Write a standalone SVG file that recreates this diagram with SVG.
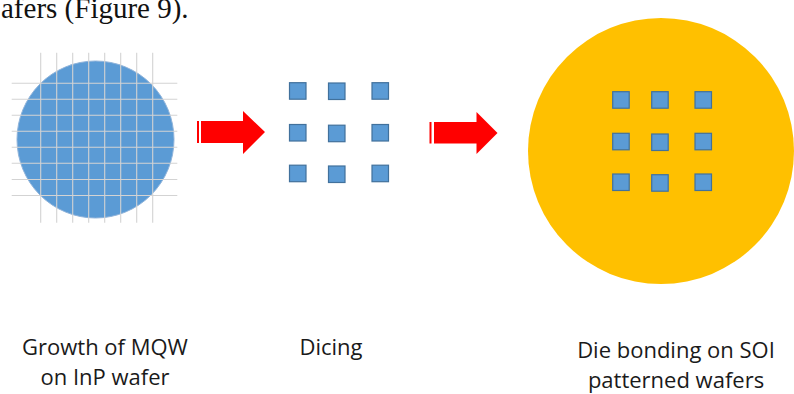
<svg xmlns="http://www.w3.org/2000/svg" width="794" height="394" viewBox="0 0 794 394">
<style>
.die{fill:#5B9BD5;stroke:#41719C;stroke-width:1.2}
.arrow{fill:#FF0000}
.grid{stroke:#D3D3D3;stroke-width:1.1}
.lbl{font-family:"Open Sans","Liberation Sans",sans-serif;font-size:22px;fill:#1a1a1a;text-anchor:middle}
.top{font-family:"Liberation Serif","Times New Roman",serif;font-size:29px;fill:#111}
</style>
<rect width="794" height="394" fill="#fff"/>
<text class="top" x="1" y="18">afers (Figure 9).</text>

<g id="inp-wafer">
<circle cx="95.5" cy="139.5" r="78.5" fill="#5B9BD5" stroke="#8FB3DA" stroke-width="1"/>
<g class="grid">
<line x1="40.7" y1="52.7" x2="40.7" y2="222.7"/>
<line x1="56.7" y1="52.7" x2="56.7" y2="222.7"/>
<line x1="72.7" y1="52.7" x2="72.7" y2="222.7"/>
<line x1="88.7" y1="52.7" x2="88.7" y2="222.7"/>
<line x1="104.7" y1="52.7" x2="104.7" y2="222.7"/>
<line x1="120.7" y1="52.7" x2="120.7" y2="222.7"/>
<line x1="136.7" y1="52.7" x2="136.7" y2="222.7"/>
<line x1="152.7" y1="52.7" x2="152.7" y2="222.7"/>
<line x1="11.7" y1="83.3" x2="177.3" y2="83.3"/>
<line x1="11.7" y1="99.3" x2="177.3" y2="99.3"/>
<line x1="11.7" y1="115.3" x2="177.3" y2="115.3"/>
<line x1="11.7" y1="131.3" x2="177.3" y2="131.3"/>
<line x1="11.7" y1="147.3" x2="177.3" y2="147.3"/>
<line x1="11.7" y1="163.3" x2="177.3" y2="163.3"/>
<line x1="11.7" y1="179.5" x2="177.3" y2="179.5"/>
<line x1="11.7" y1="195.5" x2="177.3" y2="195.5"/>
</g>
</g>

<g id="dice">
<rect class="die" x="289.5" y="82.7" width="16.5" height="16.5"/>
<rect class="die" x="328.5" y="83" width="16.5" height="16.5"/>
<rect class="die" x="372" y="82.7" width="16.5" height="16.5"/>
<rect class="die" x="289.5" y="124.5" width="16.5" height="16.5"/>
<rect class="die" x="328.5" y="125.2" width="16.5" height="16.5"/>
<rect class="die" x="372" y="124.5" width="16.5" height="16.5"/>
<rect class="die" x="289.5" y="165.2" width="16.5" height="16.5"/>
<rect class="die" x="328.5" y="166" width="16.5" height="16.5"/>
<rect class="die" x="372" y="165.2" width="16.5" height="16.5"/>
</g>

<g id="soi-wafer">
<circle cx="661" cy="151" r="133" fill="#FFC000"/>
<rect class="die" x="612.7" y="91.7" width="16.5" height="16.5"/>
<rect class="die" x="651.7" y="91.7" width="16.5" height="16.5"/>
<rect class="die" x="695" y="91.7" width="16.5" height="16.5"/>
<rect class="die" x="612.7" y="133.3" width="16.5" height="16.5"/>
<rect class="die" x="651.7" y="134" width="16.5" height="16.5"/>
<rect class="die" x="695" y="133.3" width="16.5" height="16.5"/>
<rect class="die" x="612.7" y="174" width="16.5" height="16.5"/>
<rect class="die" x="651.7" y="174.7" width="16.5" height="16.5"/>
<rect class="die" x="695" y="174" width="16.5" height="16.5"/>
</g>

<g id="connectors">
<g id="arrow1" class="arrow">
<rect x="197" y="121" width="2" height="22"/>
<path d="M201,121 L243,121 L243,111 L265,132 L243,154 L243,143 L201,143 Z"/>
</g>
<g id="arrow2" class="arrow">
<rect x="429.5" y="122" width="2" height="21.5"/>
<path d="M434,122 L476.5,122 L476.5,112 L497.5,133 L476.5,154 L476.5,143.5 L434,143.5 Z"/>
</g>
</g>

<g id="label-growth">
<text class="lbl" x="105" y="355">Growth of MQW</text>
<text class="lbl" x="105" y="385">on InP wafer</text>
</g>
<g id="label-dicing">
<text class="lbl" x="331" y="355">Dicing</text>
</g>
<g id="label-bonding">
<text class="lbl" x="676" y="358">Die bonding on SOI</text>
<text class="lbl" x="676" y="388">patterned wafers</text>
</g>
</svg>
